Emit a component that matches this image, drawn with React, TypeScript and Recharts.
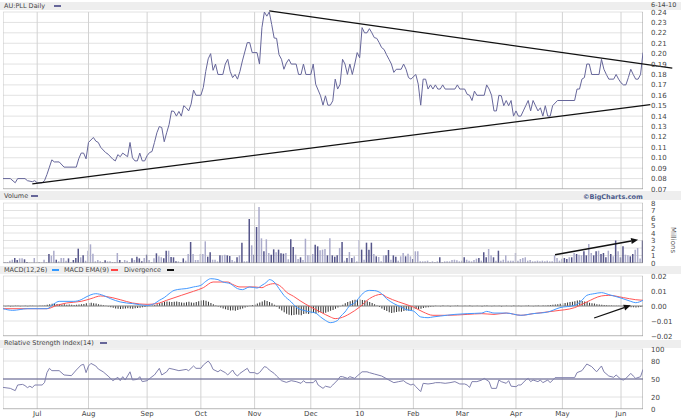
import React from "react";
import { ComposedChart, Line, Bar, Cell, XAxis, YAxis, ReferenceLine, CartesianGrid } from "recharts";

const FONT = "'DejaVu Sans', sans-serif";
const DAY_DOMAIN: [number, number] = [0, 262];

// ---------- categories / ticks ----------
const monthTicks = [14, 35, 59, 81, 103, 126, 146, 168, 188, 210, 229, 253];
const monthLabels = ["Jul", "Aug", "Sep", "Oct", "Nov", "Dec", "10", "Feb", "Mar", "Apr", "May", "Jun"];
const priceTicks = [0.07, 0.08, 0.09, 0.1, 0.11, 0.12, 0.13, 0.14, 0.15, 0.16, 0.17, 0.18, 0.19, 0.2, 0.21, 0.22, 0.23, 0.24];
const volumeTicks = [0, 1, 2, 3, 4, 5, 6, 7, 8];
const macdTicks = [-0.02, -0.01, 0, 0.01, 0.02];
const rsiTicks = [0, 20, 50, 80, 100];

// ---------- price (trading day, close) ----------
const pricePoints: [number, number][] = [
  [0, 0.080], [3, 0.080], [5, 0.076], [6, 0.080], [9, 0.080], [10, 0.078], [12, 0.077], [13, 0.078], [14, 0.076], [16, 0.076],
  [17, 0.078], [18, 0.084], [19, 0.091], [20, 0.098], [21, 0.096], [23, 0.096], [25, 0.091], [30, 0.091], [31, 0.099], [32, 0.1045],
  [33, 0.1045], [34, 0.099], [35, 0.1147], [37, 0.1195], [38, 0.116], [39, 0.1147], [40, 0.110], [42, 0.105], [43, 0.1035], [45, 0.0985],
  [46, 0.097], [47, 0.103], [48, 0.101], [49, 0.1045], [51, 0.101], [52, 0.1147], [53, 0.100], [54, 0.097], [55, 0.097], [56, 0.1045],
  [57, 0.097], [58, 0.097], [59, 0.102], [60, 0.105], [61, 0.106], [62, 0.1147], [63, 0.124], [64, 0.130], [65, 0.129], [66, 0.1154],
  [67, 0.124], [68, 0.132], [69, 0.145], [70, 0.1445], [71, 0.140], [72, 0.1445], [73, 0.140], [74, 0.150], [75, 0.148], [76, 0.145],
  [77, 0.1515], [78, 0.165], [79, 0.160], [81, 0.160], [82, 0.1675], [83, 0.183], [84, 0.195], [85, 0.200], [86, 0.184], [87, 0.190],
  [88, 0.180], [90, 0.180], [91, 0.190], [92, 0.1946], [93, 0.183], [94, 0.177], [95, 0.180], [96, 0.1755], [97, 0.183], [98, 0.193],
  [100, 0.2106], [101, 0.2106], [102, 0.201], [104, 0.201], [105, 0.190], [106, 0.225], [107, 0.240], [108, 0.236], [109, 0.240], [110, 0.228],
  [111, 0.215], [112, 0.2147], [113, 0.199], [114, 0.1946], [115, 0.185], [116, 0.191], [117, 0.1946], [118, 0.190], [120, 0.190], [121, 0.180],
  [122, 0.180], [123, 0.190], [124, 0.180], [126, 0.180], [127, 0.190], [128, 0.1706], [130, 0.1595], [131, 0.1505], [132, 0.1595], [133, 0.1505],
  [134, 0.1505], [135, 0.1547], [136, 0.1755], [137, 0.166], [138, 0.1706], [139, 0.1946], [140, 0.190], [141, 0.180], [142, 0.190], [143, 0.180],
  [144, 0.190], [145, 0.201], [146, 0.196], [147, 0.225], [148, 0.220], [149, 0.220], [150, 0.224], [151, 0.220], [152, 0.2154], [153, 0.2147],
  [154, 0.2106], [155, 0.2058], [156, 0.204], [157, 0.199], [158, 0.1946], [159, 0.190], [160, 0.182], [161, 0.185], [163, 0.185], [164, 0.190],
  [165, 0.185], [166, 0.177], [167, 0.1755], [169, 0.180], [170, 0.1706], [171, 0.1505], [172, 0.1755], [173, 0.1755], [174, 0.166], [175, 0.170],
  [176, 0.166], [177, 0.170], [178, 0.166], [179, 0.166], [180, 0.170], [181, 0.166], [185, 0.166], [186, 0.170], [187, 0.166], [189, 0.166],
  [190, 0.161], [191, 0.160], [192, 0.155], [193, 0.164], [194, 0.160], [197, 0.160], [198, 0.170], [199, 0.166], [200, 0.160], [201, 0.145],
  [202, 0.145], [203, 0.160], [204, 0.1595], [205, 0.150], [206, 0.155], [207, 0.150], [208, 0.155], [209, 0.140], [210, 0.145], [211, 0.140],
  [212, 0.140], [213, 0.145], [214, 0.150], [215, 0.155], [216, 0.145], [217, 0.155], [218, 0.150], [219, 0.145], [220, 0.148], [221, 0.140],
  [222, 0.150], [223, 0.140], [224, 0.140], [225, 0.150], [227, 0.155], [234, 0.155], [235, 0.166], [236, 0.166], [237, 0.1755], [238, 0.177],
  [239, 0.190], [240, 0.190], [241, 0.180], [244, 0.180], [245, 0.1946], [246, 0.185], [247, 0.180], [248, 0.1755], [250, 0.1755], [251, 0.180],
  [252, 0.1755], [253, 0.172], [254, 0.170], [255, 0.170], [256, 0.177], [257, 0.185], [258, 0.180], [259, 0.1755], [260, 0.1755], [261, 0.180],
  [262, 0.201],
];

// trend lines drawn on the price chart (day, price)
const upperTrend: [number, number][] = [[109, 0.241], [274, 0.186]];
const lowerTrend: [number, number][] = [[12, 0.075], [265, 0.151]];

// ---------- volume (millions, one per trading day) ----------
const volumeMillions = [
  0.10, 0.13, 0.13, 0.31, 0.44, 0.67, 0.40, 0.62, 0.62, 0.49, 0.13, 0.05, 0.05, 0.67, 0.05, 0.13, 0.05, 0.44, 0.13, 1.20,
  0.98, 1.64, 0.44, 0.22, 0.67, 0.67, 0.31, 0.62, 0.13, 0.40, 0.67, 1.91, 0.76, 1.02, 0.30, 1.64, 2.49, 1.24, 0.22, 0.40,
  0.22, 0.13, 0.36, 0.22, 0.22, 0.13, 0.13, 1.33, 0.40, 0.13, 0.40, 0.31, 0.13, 0.62, 0.40, 0.84, 0.62, 0.22, 0.67, 1.11,
  0.40, 0.13, 0.62, 1.29, 0.89, 0.76, 0.62, 1.64, 1.64, 0.80, 0.76, 0.22, 0.22, 0.13, 0.62, 0.31, 1.20, 2.80, 1.20, 0.40,
  0.40, 1.20, 1.20, 2.89, 0.84, 1.42, 0.44, 0.44, 0.22, 1.02, 1.02, 1.11, 1.02, 0.93, 0.40, 0.22, 0.76, 1.02, 2.71, 0.22,
  0.22, 5.87, 2.36, 1.11, 4.80, 7.47, 3.29, 1.56, 3.16, 1.33, 1.11, 1.82, 1.42, 1.78, 1.29, 1.24, 1.33, 0.50, 3.16, 2.13,
  1.11, 0.53, 0.76, 0.40, 3.24, 1.02, 1.02, 1.20, 2.44, 2.22, 1.69, 1.78, 1.87, 1.02, 3.29, 1.02, 0.84, 1.02, 2.00, 2.80,
  0.31, 0.67, 1.47, 0.67, 0.89, 0.22, 3.07, 1.78, 0.44, 2.71, 1.78, 2.71, 1.20, 0.89, 0.80, 0.22, 1.02, 1.02, 1.73, 0.44,
  1.02, 0.84, 0.31, 0.89, 1.33, 0.89, 1.24, 0.89, 0.53, 1.56, 1.56, 0.22, 0.22, 0.22, 0.31, 0.13, 0.22, 0.13, 0.22, 0.76,
  0.13, 0.22, 0.22, 0.22, 0.40, 0.44, 0.36, 0.22, 0.31, 0.76, 0.44, 0.31, 0.22, 0.40, 0.58, 0.67, 0.31, 1.42, 0.76, 1.87,
  1.02, 0.76, 0.31, 1.64, 0.31, 0.44, 1.02, 0.31, 0.31, 0.31, 1.33, 0.31, 0.53, 0.67, 0.76, 0.31, 0.40, 0.22, 0.22, 0.31,
  0.22, 0.31, 0.22, 0.31, 0.22, 0.22, 1.02, 0.67, 0.31, 0.58, 0.67, 0.53, 0.76, 0.76, 1.33, 1.20, 1.11, 1.02, 1.56, 1.02,
  2.53, 1.33, 1.02, 1.56, 1.64, 1.20, 1.33, 0.76, 1.64, 1.20, 0.89, 3.00, 1.56, 0.76, 2.22, 1.11, 1.02, 0.89, 1.20, 1.78,
  2.00, 0.60, 3.00,
];
// 1 = up day, 0 = down day
const volumeUpDay =
  "0000011001" + "1000000001" + "0010000101" + "1101000000" + "0010000010" +
  "0001011101" + "0001001101" + "1100100100" + "0000110001" + "0011001010" +
  "0101100100" + "1101110011" + "0010000011" + "0001011101" + "0101000101" +
  "1101000110" + "1100010010" + "0000000001" + "0000000001" + "0000010110" +
  "0101000000" + "0000000000" + "0000000000" + "1101010011" + "0011011101" +
  "0101100110" + "001";

// ---------- MACD ----------
const macdPoints: [number, number][] = [
  [0, -0.0018], [4, -0.0029], [10, -0.0018], [18, -0.0018], [21, 0.0016], [23, 0.0031], [29, 0.0031], [32, 0.0042], [34, 0.006], [38, 0.0082],
  [41, 0.0071], [44, 0.0049], [48, 0.0027], [53, 0.0016], [59, 0.0004], [62, 0.0016], [64, 0.0038], [66, 0.0056], [68, 0.0082], [70, 0.0104],
  [73, 0.0113], [75, 0.0116], [78, 0.0127], [81, 0.0138], [83, 0.0164], [85, 0.0182], [88, 0.0176], [90, 0.016], [93, 0.0149], [96, 0.0116],
  [98, 0.0109], [101, 0.0127], [104, 0.012], [106, 0.0138], [108, 0.016], [109, 0.0176], [111, 0.016], [113, 0.0116], [115, 0.0071], [118, 0.0027],
  [120, -0.0007], [123, -0.0029], [126, -0.004], [128, -0.0047], [130, -0.0073], [132, -0.0096], [134, -0.0111], [137, -0.0096], [138, -0.0073], [140, -0.004],
  [142, 0.0004], [144, 0.002], [146, 0.006], [148, 0.0093], [150, 0.0104], [152, 0.0103], [155, 0.0082], [157, 0.0049], [160, 0.0016], [163, -0.0007],
  [165, -0.0024], [168, -0.0033], [171, -0.0073], [174, -0.0078], [176, -0.0073], [179, -0.0067], [185, -0.0056], [190, -0.0051], [196, -0.0047], [198, -0.0036],
  [201, -0.0047], [206, -0.0047], [212, -0.0062], [217, -0.0051], [223, -0.004], [228, -0.0011], [234, 0.0004], [237, 0.0038], [239, 0.0071], [242, 0.0082],
  [245, 0.0089], [248, 0.0076], [253, 0.0053], [257, 0.0031], [259, 0.0022], [262, 0.0038],
];
const signalPoints: [number, number][] = [
  [0, -0.0018], [18, -0.0018], [22, 0.0004], [26, 0.002], [32, 0.0031], [36, 0.0049], [40, 0.0067], [42, 0.0064], [48, 0.0042], [53, 0.002],
  [59, 0.0011], [63, 0.0016], [67, 0.0038], [73, 0.0071], [78, 0.0098], [82, 0.0122], [86, 0.016], [92, 0.016], [94, 0.0144], [97, 0.0127],
  [103, 0.0127], [106, 0.0122], [108, 0.0138], [111, 0.0149], [114, 0.0127], [116, 0.0093], [119, 0.0064], [122, 0.0031], [126, -0.0007], [130, -0.004],
  [134, -0.0073], [136, -0.0084], [138, -0.008], [142, -0.0051], [146, -0.0007], [150, 0.0049], [155, 0.0078], [157, 0.006], [162, 0.0027], [168, -0.0007],
  [172, -0.004], [176, -0.0062], [182, -0.0062], [190, -0.0056], [196, -0.0051], [201, -0.0056], [206, -0.0047], [212, -0.0062], [217, -0.0051], [226, -0.0033],
  [234, -0.0011], [239, 0.0027], [245, 0.0067], [248, 0.0071], [254, 0.0056], [259, 0.0042], [262, 0.0038],
];
// divergence (thousandths, one per trading day)
const divergenceMilli = [
  0.2, -0.2, 0.1, -0.3, -0.2, 0.2, 0.1, -0.2, 0, 0.1, -0.1, 0.2, 0.1, 0, -0.1, 0.1, 0.2, 0.3,
  0.8, 1.2, 1.5, 1.6, 1.4, 1.3, 1.0, 1.2,
  0.8, 1.0, 0.9, 0.7, 0.8, 1.0, 1.2, 1.4,
  1.8, 2.0, 2.2, 1.9, 1.6, 1.2, 0.8,
  0.5, 0.2, -0.3,
  -0.8, -1.2, -1.6, -1.9, -2.0, -1.8, -1.7, -1.5, -1.6, -1.8, -1.5, -1.3, -1.1, -0.9, -0.6,
  -0.3, 0.1, 0.3, 0.6,
  1.2, 1.8, 2.4, 2.8, 3.0, 2.9, 2.7, 2.8, 3.0, 2.6, 2.4, 2.2, 2.5, 2.8, 2.4, 2.2, 2.6, 3.2, 3.6, 3.8, 3.5, 2.8, 2.0, 1.2,
  0.4, -0.3,
  -1.0, -1.6, -2.2, -2.6, -3.0, -2.8, -3.2, -2.7, -2.2, -1.6, -1.0, -0.4,
  0.2, 0.6, 1.0,
  1.6, 2.4, 3.0, 3.8, 3.4, 2.6, 1.8, 0.9,
  -0.5,
  -1.8, -3.0, -4.2, -5.2, -5.8, -6.2, -6.0, -5.6, -5.9, -6.1, -5.4, -5.0, -5.3, -4.8, -4.6, -5.0, -4.4, -4.2, -4.8, -4.5, -3.8, -3.2, -2.6, -1.8, -1.0, -0.2,
  0.8, 1.8, 2.6, 3.2, 3.8, 4.2, 4.4, 4.3, 4.0, 3.8, 3.2, 2.6, 2.0, 1.2, 0.4,
  -0.6, -1.6, -2.6, -3.4, -4.2, -4.6, -4.4, -4.0, -3.6, -3.8, -3.4, -3.0, -3.2, -2.8, -2.4, -2.0, -2.2, -1.8, -1.4, -1.0, -0.8, -0.5, -0.3,
  0.2, 0, -0.2, 0.3, 0, 0.1, -0.3, 0, 0.2, 0.4, 0, -0.2, 0.1, 0, 0.3, -0.1, 0, 0.2, 0, -0.3, 0.1, 0.4, 0, -0.2, 0.2,
  0, 0.1, -0.4, 0, 0.2, 0, -0.1, 0.3, 0, 0.2, -0.2, 0, 0.1, 0.3, 0, -0.1, 0.2, 0.4, 0, 0.3, 0.1, 0.5, 0.6, 0.8,
  1.0, 1.2, 1.5, 1.8, 2.0, 2.4, 2.6, 2.8, 3.2, 3.6, 3.8, 3.4, 3.0, 2.6, 2.2, 1.8, 1.6, 1.2, 1.0, 0.8,
  0.6, 0.5, 0.4, 0.3, 0.2, 0.2, 0.1, 0, -0.2,
  -0.4, -0.6, -0.8, -0.9, -1.0, -0.8, -0.6, -0.3,
];

// ---------- RSI(14) ----------
const rsiPoints: [number, number][] = [
  [0, 36], [3, 34.4], [5, 30.6], [6, 40], [8, 41], [9, 39], [10, 35.6], [11, 38], [12, 35.6], [13, 40],
  [16, 40], [17, 44], [18, 60.6], [19, 67.8], [20, 63.9], [23, 63.9], [25, 56.7], [28, 55.6], [30, 65], [32, 73.3],
  [33, 74.4], [34, 60.6], [35, 71.7], [36, 76], [38, 71.7], [39, 66.7], [41, 62], [43, 55], [45, 47.2], [47, 52.8],
  [48, 47.2], [49, 53.9], [50, 48.3], [52, 62], [53, 48.3], [55, 49.4], [56, 53.9], [57, 45.6], [59, 47.2], [61, 53.9],
  [62, 56.7], [64, 67.8], [65, 56.7], [67, 62], [68, 67.8], [70, 66], [72, 63.9], [75, 66], [76, 63.9], [78, 71.7],
  [79, 67.8], [81, 67.8], [82, 73.3], [84, 80], [85, 75], [86, 66], [88, 62], [89, 65], [91, 60.6], [92, 56.7],
  [94, 65], [95, 58.3], [96, 55], [97, 59.4], [100, 67.8], [101, 60.6], [103, 60.6], [104, 58.3], [105, 60.6], [107, 70.6],
  [108, 69.4], [109, 65], [111, 59.4], [112, 55], [114, 47.2], [116, 44.4], [118, 47.2], [120, 45.6], [122, 42.8], [123, 47.2],
  [124, 43.9], [127, 43.9], [128, 48.3], [129, 40], [131, 34.4], [132, 38], [134, 36], [135, 40], [137, 48.3], [138, 54],
  [139, 53.9], [141, 51], [142, 53.9], [144, 51], [145, 55], [147, 62], [149, 62], [150, 60.6], [152, 58.3], [155, 55],
  [158, 48.3], [160, 43.9], [162, 45.6], [164, 47.2], [165, 43.9], [167, 40], [168, 41.7], [169, 37.2], [171, 29], [172, 42.8],
  [174, 41.7], [176, 42.8], [177, 43.9], [179, 43.9], [181, 42.8], [183, 43.9], [185, 45.6], [187, 41.7], [189, 41.7], [190, 40],
  [191, 36], [192, 45.6], [194, 45.6], [196, 48.3], [197, 51], [199, 45.6], [200, 34.4], [202, 34.4], [203, 48.3], [204, 45.6],
  [206, 42.8], [207, 47.2], [208, 38], [210, 37.2], [211, 40], [212, 40], [214, 48.3], [215, 51], [216, 45.6], [217, 48.3],
  [219, 45.6], [220, 48.3], [221, 43.9], [223, 48.3], [224, 43.9], [226, 52.2], [234, 52.2], [235, 60.6], [237, 63.9], [239, 75],
  [241, 70.6], [243, 62], [245, 71.7], [246, 62], [248, 55], [250, 52.8], [251, 56.7], [253, 49.4], [254, 48.3], [255, 51],
  [257, 59.4], [258, 55], [259, 51], [261, 53.9], [262, 66],
];

// annotation arrows (day, value)
const volumeArrow: [number, number][] = [[226, 1.1], [260, 3.1]];
const macdArrow: [number, number][] = [[242, -0.008], [257, 0.0005]];

// ---------- tables built from the arrays ----------
const toRows = (pts: [number, number][], key: string) => pts.map(([day, v]) => ({ day, [key]: v }));
const priceRows = toRows(pricePoints, "price");
const macdRows = toRows(macdPoints, "macd");
const signalRows = toRows(signalPoints, "signal");
const rsiRows = toRows(rsiPoints, "rsi");
const volumeRows = volumeMillions.map((v, i) => ({ day: i, vol: v, up: volumeUpDay[i] === "1" }));
const divergenceRows = divergenceMilli.map((v, i) => ({ day: i, div: v / 1000 }));
const seg = (pts: [number, number][]) => pts.map(([x, y]) => ({ x, y }));

const rightTick = (fmt: (v: number) => string) => (props: any) => (
  <text x={props.x} y={props.y} dy={2.5} textAnchor="start" fontSize={7} fontFamily={FONT} fill="#444">
    {fmt(props.payload.value)}
  </text>
);

const bottomTick = (props: any) => {
  const i = monthTicks.indexOf(props.payload.value);
  return (
    <text x={props.x} y={props.y} dy={2.5} textAnchor="middle" fontSize={7} fontFamily={FONT} fill="#444">
      {monthLabels[i]}
    </text>
  );
};

const Arrow = (p: any) => {
  const { x1, y1, x2, y2 } = p;
  const a = Math.atan2(y2 - y1, x2 - x1);
  const L = 7, W = 3;
  const bx = x2 - L * Math.cos(a), by = y2 - L * Math.sin(a);
  const pts = `${x2},${y2} ${bx + W * Math.sin(a)},${by - W * Math.cos(a)} ${bx - W * Math.sin(a)},${by + W * Math.cos(a)}`;
  return (
    <g>
      <line x1={x1} y1={y1} x2={bx} y2={by} stroke="#111" strokeWidth={1.3} />
      <polygon points={pts} fill="#111" />
    </g>
  );
};

const monthLines = (stroke: string) =>
  monthTicks.map((t) => <ReferenceLine key={"m" + t} x={t} stroke={stroke} strokeWidth={1} ifOverflow="hidden" />);

const frame = (yMin: number) => [
  <ReferenceLine key="fl" x={0} stroke="#c8c8c8" ifOverflow="hidden" />,
  <ReferenceLine key="fr" x={262} stroke="#9a9a9a" ifOverflow="hidden" />,
  <ReferenceLine key="fb" y={yMin} stroke="#9a9a9a" ifOverflow="hidden" />,
];

const W = 681;
const yAxisCommon = {
  orientation: "right" as const,
  width: 38,
  axisLine: false,
  tickLine: false,
  tickSize: 0,
  tickMargin: 8,
  interval: 0 as const,
};

const Band = ({ top, h }: { top: number; h: number }) => (
  <div style={{ position: "absolute", left: 0, top, width: W, height: h, background: "#eeeeee" }} />
);
const Label = ({ left, top, children, bold, color }: any) => (
  <div
    style={{
      position: "absolute", left, top, fontFamily: FONT, fontSize: 6.5, lineHeight: "8px",
      color: color || "#444", fontWeight: bold ? "bold" : "normal", whiteSpace: "nowrap",
    }}
  >
    {children}
  </div>
);
const Swatch = ({ left, top, color }: any) => (
  <div style={{ position: "absolute", left, top, width: 7, height: 2, background: color }} />
);

export default function App() {
  return (
    <div style={{ position: "absolute", left: 0, top: 0, width: W, height: 419, background: "#fff", overflow: "hidden" }}>
      <Band top={2} h={8} />
      <Band top={191} h={9} />
      <Band top={266} h={8} />
      <Band top={340} h={8} />

      <Label left={4} top={2}>AU:PLL Daily</Label>
      <Swatch left={54} top={5} color="#666699" />
      <Label left={651} top={1}>6-14-10</Label>

      <Label left={4} top={192}>Volume</Label>
      <Swatch left={31} top={195} color="#666699" />
      <Label left={583} top={193} bold color="#4a5a8a">©BigCharts.com</Label>

      <Label left={4} top={266}>MACD(12,26)</Label>
      <Swatch left={52} top={269} color="#3399ff" />
      <Label left={64} top={266}>MACD EMA(9)</Label>
      <Swatch left={111} top={269} color="#ff4444" />
      <Label left={124} top={266}>Divergence</Label>
      <Swatch left={167} top={269} color="#111" />

      <Label left={4} top={339}>Relative Strength Index(14)</Label>
      <Swatch left={100} top={342} color="#666699" />

      <div
        style={{
          position: "absolute", left: 650, top: 236, width: 46, height: 8, transform: "rotate(90deg)",
          fontFamily: FONT, fontSize: 7, lineHeight: "8px", color: "#555", textAlign: "center",
        }}
      >
        Millions
      </div>

      {/* Price */}
      <div style={{ position: "absolute", left: 0, top: 0 }}>
        <ComposedChart width={W} height={200} margin={{ top: 12, right: 0, bottom: 11, left: 3 }} data={priceRows}>
          <CartesianGrid vertical={false} stroke="#e2e2e2" />
          <XAxis type="number" dataKey="day" domain={DAY_DOMAIN} allowDataOverflow hide />
          <YAxis {...yAxisCommon} domain={[0.07, 0.24]} ticks={priceTicks} allowDataOverflow tick={rightTick((v) => v.toFixed(2))} />
          {monthLines("#d2d2d2")}
          {frame(0.07)}
          <Line data={priceRows} dataKey="price" type="linear" stroke="#66669a" strokeWidth={1} dot={false} isAnimationActive={false} />
          <ReferenceLine segment={seg(upperTrend)} stroke="#111" strokeWidth={1.3} ifOverflow="visible" />
          <ReferenceLine segment={seg(lowerTrend)} stroke="#111" strokeWidth={1.3} ifOverflow="visible" />
        </ComposedChart>
      </div>

      {/* Volume */}
      <div style={{ position: "absolute", left: 0, top: 193 }}>
        <ComposedChart width={W} height={80} margin={{ top: 10, right: 0, bottom: 10, left: 3 }} data={volumeRows}>
          <CartesianGrid vertical={false} stroke="#e2e2e2" />
          <XAxis type="number" dataKey="day" domain={DAY_DOMAIN} allowDataOverflow hide />
          <YAxis {...yAxisCommon} domain={[0, 8]} ticks={volumeTicks} allowDataOverflow tick={rightTick((v) => String(v))} />
          {monthLines("#d2d2d2")}
          {frame(0)}
          <Bar dataKey="vol" barSize={1.5} isAnimationActive={false}>
            {volumeRows.map((r) => (
              <Cell key={r.day} fill={r.up ? "#55558a" : "#ababcb"} />
            ))}
          </Bar>
          <ReferenceLine segment={seg(volumeArrow)} ifOverflow="visible" shape={Arrow} />
        </ComposedChart>
      </div>

      {/* MACD */}
      <div style={{ position: "absolute", left: 0, top: 266 }}>
        <ComposedChart width={W} height={80} margin={{ top: 10, right: 0, bottom: 10, left: 3 }} data={divergenceRows}>
          <CartesianGrid vertical={false} stroke="#e2e2e2" />
          <XAxis type="number" dataKey="day" domain={DAY_DOMAIN} allowDataOverflow hide />
          <YAxis {...yAxisCommon} domain={[-0.02, 0.02]} ticks={macdTicks} allowDataOverflow tick={rightTick((v) => (v < 0 ? "−" : "") + Math.abs(v).toFixed(2))} />
          {monthLines("#d2d2d2")}
          {frame(-0.02)}
          <ReferenceLine y={0} stroke="#8a8a8a" />
          <Bar dataKey="div" barSize={1} fill="#333" isAnimationActive={false} />
          <Line data={signalRows} dataKey="signal" type="monotone" stroke="#ff5555" strokeWidth={1} dot={false} isAnimationActive={false} />
          <Line data={macdRows} dataKey="macd" type="monotone" stroke="#4499ff" strokeWidth={1} dot={false} isAnimationActive={false} />
          <ReferenceLine segment={seg(macdArrow)} ifOverflow="visible" shape={Arrow} />
        </ComposedChart>
      </div>

      {/* RSI */}
      <div style={{ position: "absolute", left: 0, top: 339 }}>
        <ComposedChart width={W} height={80} margin={{ top: 10, right: 0, bottom: 0, left: 3 }} data={rsiRows}>
          <CartesianGrid vertical={false} stroke="#e2e2e2" />
          <XAxis
            type="number" dataKey="day" domain={DAY_DOMAIN} allowDataOverflow ticks={monthTicks} interval={0}
            height={10} axisLine={false} tickLine={false} tickSize={0} tickMargin={4} tick={bottomTick}
          />
          <YAxis {...yAxisCommon} domain={[0, 100]} ticks={rsiTicks} allowDataOverflow tick={rightTick((v) => String(v))} />
          {monthLines("#d2d2d2")}
          {frame(0)}
          <ReferenceLine y={50} stroke="#5a5a8c" strokeWidth={1} />
          <Line data={rsiRows} dataKey="rsi" type="linear" stroke="#8080ad" strokeWidth={1} dot={false} isAnimationActive={false} />
        </ComposedChart>
      </div>
    </div>
  );
}
